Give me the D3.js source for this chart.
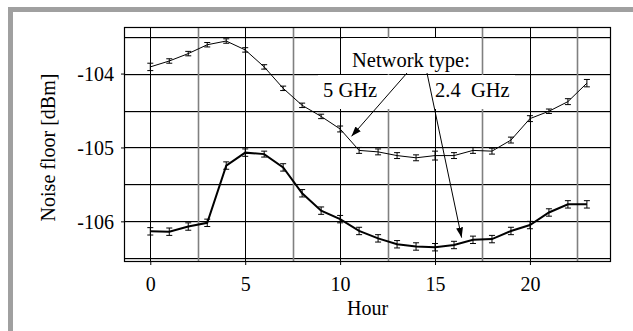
<!DOCTYPE html>
<html><head><meta charset="utf-8">
<script src="https://cdn.jsdelivr.net/npm/d3@7"></script>
<style>html,body{margin:0;padding:0;background:#fff;}svg{display:block;}
svg text{font-family:"Liberation Serif","Times New Roman",serif !important;}</style>
</head><body>
<svg id="c" width="633" height="331"></svg>
<script>
const hours = d3.range(0, 24);
const ghz5 = [-103.91,-103.83,-103.73,-103.61,-103.56,-103.68,-103.91,-104.20,-104.43,-104.58,-104.75,-105.04,-105.06,-105.11,-105.14,-105.11,-105.11,-105.04,-105.05,-104.90,-104.61,-104.51,-104.38,-104.13];
const ghz5Err = [0.05,0.03,0.03,0.03,0.03,0.03,0.03,0.03,0.03,0.03,0.04,0.04,0.04,0.04,0.04,0.06,0.04,0.04,0.04,0.04,0.04,0.03,0.04,0.05];
const ghz24 = [-106.135,-106.14,-106.07,-106.02,-105.245,-105.07,-105.09,-105.27,-105.62,-105.855,-105.97,-106.13,-106.23,-106.31,-106.34,-106.35,-106.32,-106.25,-106.24,-106.13,-106.05,-105.88,-105.77,-105.77];
const ghz24Err = [0.05,0.05,0.05,0.05,0.05,0.05,0.04,0.05,0.05,0.05,0.05,0.05,0.05,0.05,0.05,0.05,0.05,0.05,0.05,0.05,0.05,0.05,0.05,0.05];
const xTicks = [0, 5, 10, 15, 20];
const xMinor = [2.5, 7.5, 12.5, 17.5, 22.5];
const yTicks = [-104, -105, -106];
const yGrid = [-103.5, -104, -104.5, -105, -105.5, -106, -106.5];
const labels = {y: "Noise floor [dBm]", x: "Hour", note: "Network type:", s1: "5 GHz", s2: "2.4\u00a0\u00a0GHz"};

const svg = d3.select("#c");
const L = 124, R = 611, T = 27, B = 262;
const x = d3.scaleLinear().domain([-1.385, 24.27]).range([L, R]);
const y = d3.scaleLinear().domain([-103.37, -106.55]).range([T, B]);

// outer frame
svg.append("rect").attr("x", 8).attr("y", 7).attr("width", 625).attr("height", 5).attr("fill", "#a0a0a0");
svg.append("rect").attr("x", 8).attr("y", 7).attr("width", 5).attr("height", 324).attr("fill", "#a0a0a0");

const g = svg.append("g");
// horizontal grid
yGrid.forEach(v => {
  g.append("line").attr("x1", L).attr("x2", R).attr("y1", Math.round(y(v)) + 1).attr("y2", Math.round(y(v)) + 1)
    .attr("stroke", "#d0d0d0").attr("stroke-width", 2);
  g.append("line").attr("x1", L).attr("x2", R).attr("y1", Math.round(y(v)) + 0.5).attr("y2", Math.round(y(v)) + 0.5)
    .attr("stroke", "#000").attr("stroke-width", 1);
});
xMinor.forEach(v => {
  g.append("line").attr("x1", Math.round(x(v)) + 0.5).attr("x2", Math.round(x(v)) + 0.5).attr("y1", T).attr("y2", B)
    .attr("stroke", "#808080").attr("stroke-width", 1.6);
});
xTicks.forEach(v => {
  g.append("line").attr("x1", Math.round(x(v)) + 0.5).attr("x2", Math.round(x(v)) + 0.5).attr("y1", T).attr("y2", B)
    .attr("stroke", "#000").attr("stroke-width", 1);
});

// annotation background boxes
g.append("rect").attr("x", 343).attr("y", 38).attr("width", 138).attr("height", 36).attr("fill", "#fff");
g.append("rect").attr("x", 318).attr("y", 75).attr("width", 197).attr("height", 34).attr("fill", "#fff");

// border
g.append("rect").attr("x", L + 0.5).attr("y", T + 0.5).attr("width", R - L - 1).attr("height", B - T - 1)
  .attr("fill", "none").attr("stroke", "#000").attr("stroke-width", 1.2);

// axes
const xAxis = d3.axisBottom(x).tickValues(xTicks).tickSize(3).tickFormat(d3.format("d"));
const gx = svg.append("g").attr("transform", `translate(0,${B})`).call(xAxis);
gx.select(".domain").remove();
gx.selectAll("text").attr("font-size", 20).attr("fill", "#000").attr("y", 10).attr("dy", "0.95em");
const yAxis = d3.axisLeft(y).tickValues(yTicks).tickSize(3).tickFormat(d => String(d));
const gy = svg.append("g").attr("transform", `translate(${L},0)`).call(yAxis);
gy.select(".domain").remove();
gy.selectAll("text").attr("font-size", 20).attr("fill", "#000").attr("x", -10).attr("dy", "0.35em");

svg.append("text").attr("x", (L + R) / 2).attr("y", 315).attr("text-anchor", "middle")
  .attr("font-size", 20).text(labels.x);
svg.append("text").attr("transform", `translate(55,${(T + B) / 2 + 3}) rotate(-90)`).attr("text-anchor", "middle")
  .attr("font-size", 20).text(labels.y);

// series
function drawSeries(vals, errs, w) {
  const line = d3.line().x((d, i) => x(hours[i])).y(d => y(d));
  g.append("path").datum(vals).attr("d", line).attr("fill", "none").attr("stroke", "#000").attr("stroke-width", w);
  const eb = g.append("g").attr("stroke", "#000").attr("stroke-width", 1);
  vals.forEach((v, i) => {
    const cx = x(hours[i]), y1 = y(v + errs[i]), y2 = y(v - errs[i]);
    eb.append("line").attr("x1", cx).attr("x2", cx).attr("y1", y1).attr("y2", y2);
    eb.append("line").attr("x1", cx - 3).attr("x2", cx + 3).attr("y1", y1).attr("y2", y1);
    eb.append("line").attr("x1", cx - 3).attr("x2", cx + 3).attr("y1", y2).attr("y2", y2);
  });
}
drawSeries(ghz5, ghz5Err, 1);
drawSeries(ghz24, ghz24Err, 2);

// annotations
const defs = svg.append("defs");
defs.append("marker").attr("id", "ah").attr("viewBox", "0 0 10 10").attr("refX", 10).attr("refY", 5)
  .attr("markerWidth", 10).attr("markerHeight", 10).attr("markerUnits", "userSpaceOnUse").attr("orient", "auto")
  .append("path").attr("d", "M0,1.5 L10,5 L0,8.5 Z").attr("fill", "#000");
g.append("text").attr("x", 352).attr("y", 67).attr("font-size", 20.5).text(labels.note);
g.append("text").attr("x", 323).attr("y", 97).attr("font-size", 20.5).text(labels.s1);
g.append("text").attr("x", 435).attr("y", 97).attr("font-size", 20.5).text(labels.s2);
g.append("line").attr("x1", 407).attr("y1", 73).attr("x2", x(10.6)).attr("y2", y(-104.85))
  .attr("stroke", "#000").attr("stroke-width", 1).attr("marker-end", "url(#ah)");
g.append("line").attr("x1", 427).attr("y1", 73).attr("x2", x(16.4)).attr("y2", y(-106.22))
  .attr("stroke", "#000").attr("stroke-width", 1).attr("marker-end", "url(#ah)");
</script>
</body></html>
